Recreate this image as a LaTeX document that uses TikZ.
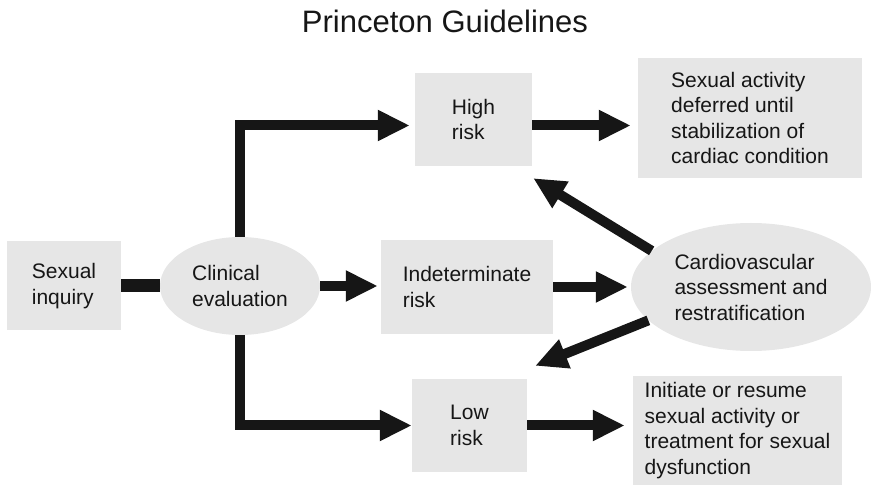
\documentclass[tikz,border=0pt]{standalone}
\usepackage{fontspec}
\setmainfont{Liberation Sans}
\usetikzlibrary{arrows.meta,shapes.geometric,calc}
\definecolor{boxgray}{HTML}{E6E6E6}
\definecolor{ink}{HTML}{161616}
\begin{document}
\begin{tikzpicture}[x=1pt,y=-1pt,
  every node/.style={font=\fontsize{21}{25.5}\selectfont, text=ink, inner sep=0pt},
  box/.style={rectangle, fill=boxgray, align=left},
  oval/.style={ellipse, fill=boxgray, align=left},
  flow/.style={draw=ink, line width=10pt, -{Triangle[length=32pt,width=29pt]}},
  link/.style={draw=ink, line width=13pt}]
\useasboundingbox (0,0) rectangle (871,486);

% title
\node[anchor=base] (title) at (445,33) {\fontsize{31}{36}\selectfont Princeton Guidelines};

% boxes and ovals
\node[box, minimum width=114pt, minimum height=89pt] (inq) at (64,286) {Sexual\\inquiry};
\node[oval, minimum width=160pt, minimum height=98pt] (clin) at (240,286) {Clinical\\evaluation};
\node[box, minimum width=117pt, minimum height=93pt] (high) at (473.5,119.5) {High\\risk};
\node[box, minimum width=224pt, minimum height=120pt] (sa) at (750,118) {Sexual activity\\deferred until\\stabilization of\\cardiac condition};
\node[box, minimum width=172pt, minimum height=94pt] (indet) at (467,287) {Indeterminate\\risk};
\node[oval, minimum width=240pt, minimum height=128pt] (cv) at (751,287) {Cardiovascular\\assessment and\\restratification};
\node[box, minimum width=115pt, minimum height=93pt] (low) at (469.5,425.5) {Low\\risk};
\node[box, minimum width=209pt, minimum height=109pt] (init) at (737.5,430.5) {Initiate or resume\\sexual activity or\\treatment for sexual\\dysfunction};

% connectors
\draw[link] (inq.east) -- (clin.west);
\draw[flow, shorten >=5pt] (clin.north) |- ([yshift=-6pt]high.west);
\draw[flow] (clin.south) |- (low.west);
\draw[flow, shorten >=3pt] (clin.east) -- (clin.east -| indet.west);
\draw[flow, shorten >=3pt] (indet.east) -- (indet.east -| cv.west);
\draw[flow, shorten >=7pt] ([yshift=-6pt]high.east) -- ([yshift=-6pt]high.east -| sa.west);
\draw[flow, shorten >=8pt] (low.east) -- (low.east -| init.west);
\draw[flow] (cv.160) -- ([xshift=1pt,yshift=-12pt]high.south east);
\draw[flow] (cv.198) -- ([xshift=8pt,yshift=13pt]low.north east);
\end{tikzpicture}
\end{document}
